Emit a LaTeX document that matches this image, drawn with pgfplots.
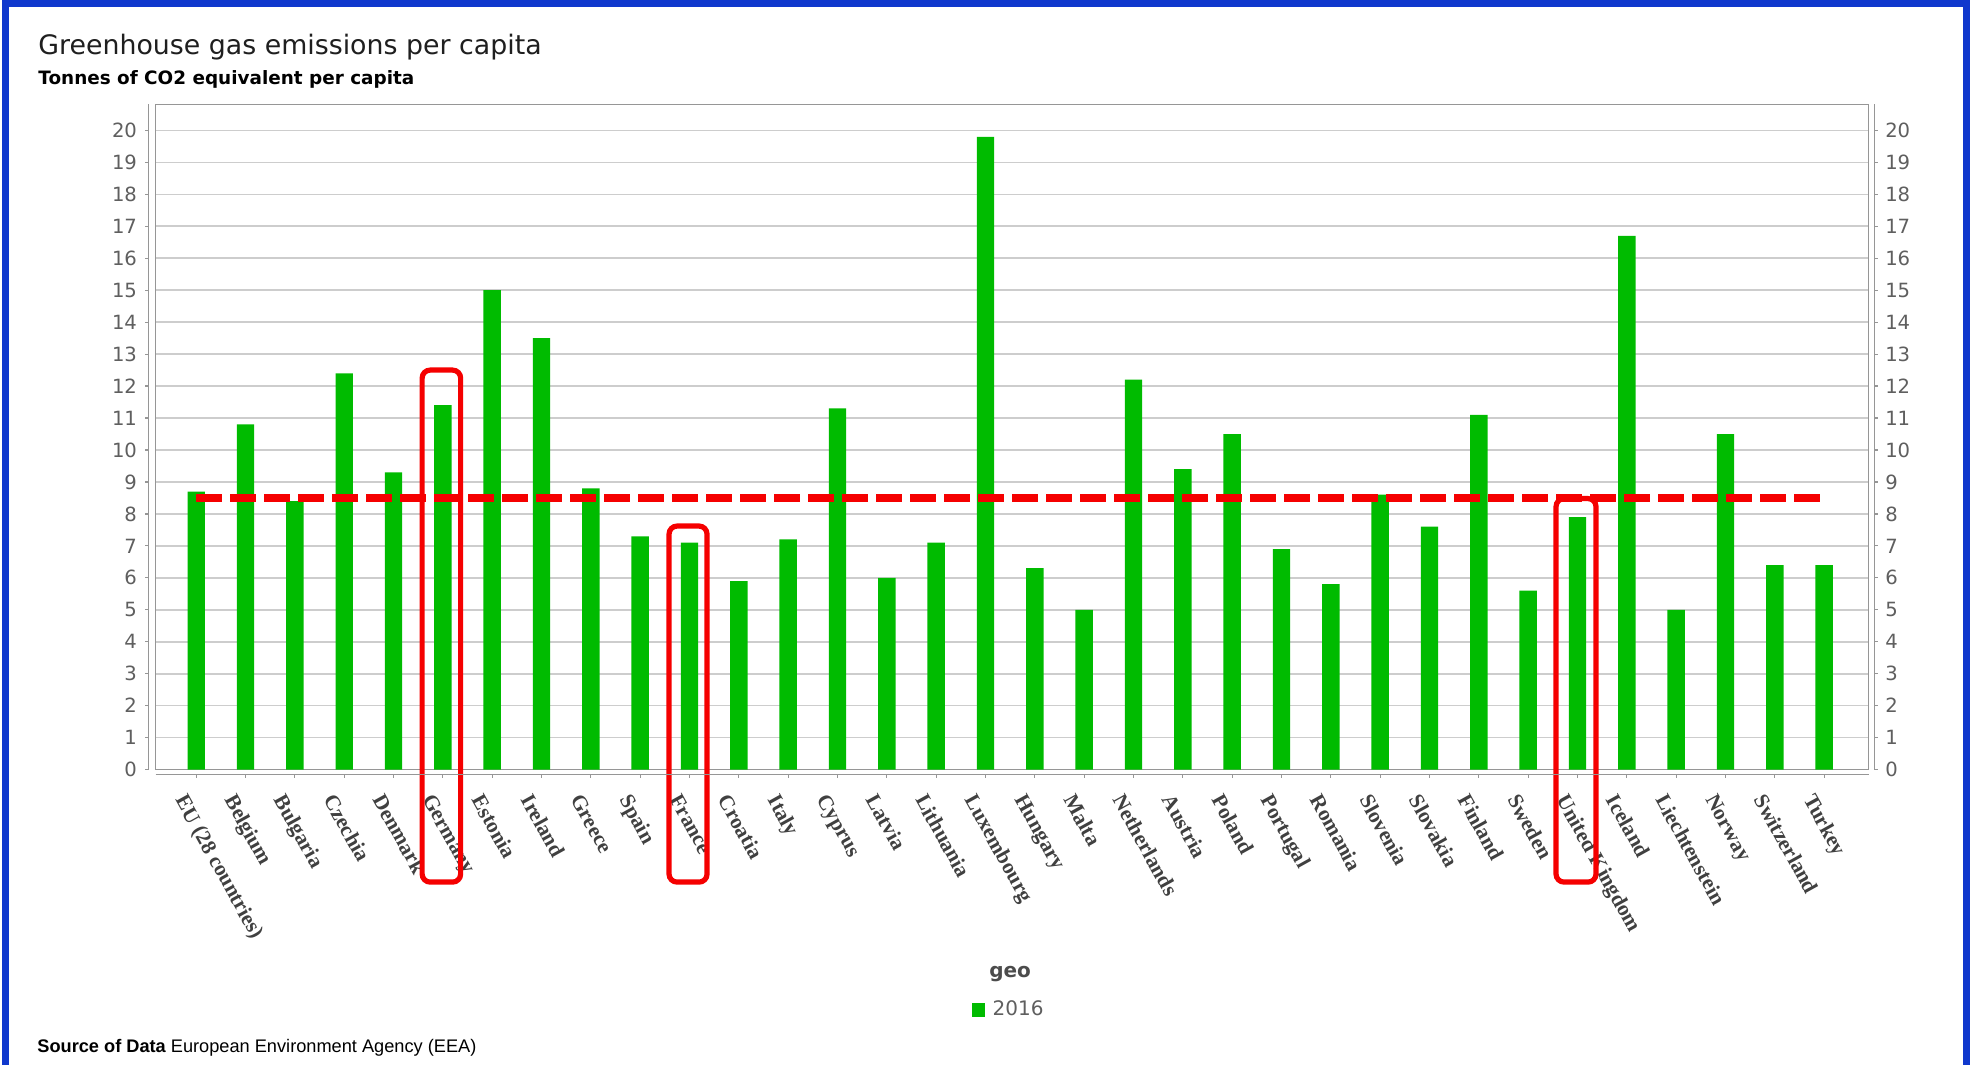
\documentclass[border=0pt]{standalone}
\usepackage{pgfplots}
\pgfplotsset{compat=1.18}
\usepackage{fontspec}
\setmainfont{DejaVu Sans}
\newfontfamily\lserif{Liberation Serif}
\newfontfamily\lsans{Liberation Sans}
\definecolor{barg}{RGB}{0,187,0}
\definecolor{myred}{RGB}{245,0,0}
\definecolor{gridc}{RGB}{205,205,205}
\definecolor{framec}{RGB}{150,150,150}
\definecolor{tickc}{RGB}{95,95,95}
\definecolor{bordc}{RGB}{16,56,205}
\pgfplotstableread{
x y
0 8.7
1 10.8
2 8.4
3 12.4
4 9.3
5 11.4
6 15.0
7 13.5
8 8.8
9 7.3
10 7.1
11 5.9
12 7.2
13 11.3
14 6.0
15 7.1
16 19.8
17 6.3
18 5.0
19 12.2
20 9.4
21 10.5
22 6.9
23 5.8
24 8.6
25 7.6
26 11.1
27 5.6
28 7.9
29 16.7
30 5.0
31 10.5
32 6.4
33 6.4
}\emissions
\begin{document}
\begin{tikzpicture}
\useasboundingbox (0pt,0pt) rectangle (985pt,532.5pt);
\fill[white] (0pt,0pt) rectangle (985pt,532.5pt);
\draw[bordc, line width=3.5pt] (2.75pt,-10pt) -- (2.75pt,530.7pt) -- (983.25pt,530.7pt) -- (983.25pt,-10pt);
\node[anchor=base west, inner sep=0pt, font=\fontsize{13.4pt}{16pt}\selectfont, text=black!88] at (19pt,505.3pt) {Greenhouse gas emissions per capita};
\node[anchor=base west, inner sep=0pt, font=\bfseries\fontsize{9.2pt}{11pt}\selectfont, text=black] at (19pt,490.2pt) {Tonnes of CO2 equivalent per capita};
\node[anchor=base west, inner sep=0pt, font=\lsans\fontsize{9.1pt}{11pt}\selectfont, text=black] at (18.5pt,6.3pt) {{\bfseries Source of Data} European Environment Agency (EEA)};

\begin{axis}[
  at={(77.875pt,147.7pt)}, anchor=south west, scale only axis,
  width=856.4pt, height=332.55pt,
  xmin=-0.82, xmax=33.9, ymin=0, ymax=20.81,
  clip=false,
  axis line style={framec, line width=0.6pt},
  ymajorgrids, grid style={gridc, line width=0.8pt},
  major tick length=0pt,
  ytick={0,...,20},
  xtick={0,...,33},
  xticklabels={EU (28 countries),Belgium,Bulgaria,Czechia,Denmark,Germany,Estonia,Ireland,Greece,Spain,France,Croatia,Italy,Cyprus,Latvia,Lithuania,Luxembourg,Hungary,Malta,Netherlands,Austria,Poland,Portugal,Romania,Slovenia,Slovakia,Finland,Sweden,United Kingdom,Iceland,Liechtenstein,Norway,Switzerland,Turkey},
  /pgf/number format/assume math mode=true,
  yticklabel style={font=\fontsize{9.8pt}{11pt}\selectfont, text=tickc, inner sep=0pt, anchor=east, xshift=-9.2pt},
  xticklabel style={font=\lserif\bfseries\fontsize{10.7pt}{12pt}\selectfont, text=black!75, inner sep=0pt, xshift=-4pt, yshift=-11.2pt, rotate=-61, anchor=north west},
  xlabel={geo},
  xlabel style={at={(axis description cs:0.4988,-0.3073)}, anchor=center, font=\bfseries\fontsize{10pt}{12pt}\selectfont, text=black!70},
  legend style={at={(0.4982,-0.3614)}, anchor=center, draw=none, fill=none, inner sep=0pt, font=\fontsize{10pt}{12pt}\selectfont, text=tickc, nodes={inner sep=1.5pt}},
  legend image code/.code={\fill[barg] (0pt,-3.5pt) rectangle (6.5pt,3.5pt); \path (9pt,0pt);},
]
\addplot[ybar, bar width=8.7pt, fill=barg, draw=none] table[x=x,y=y] {\emissions};
\addlegendentry{2016}
\addplot[forget plot, sharp plot, myred, line width=4pt, dash pattern=on 13pt off 4pt] coordinates {(0,8.5) (33.04,8.5)};
% annotation boxes
\draw[myred, line width=2.6pt, rounded corners=4pt] (axis cs:4.58,-3.52) rectangle (axis cs:5.36,12.5);
\draw[myred, line width=2.6pt, rounded corners=4pt] (axis cs:9.585,-3.52) rectangle (axis cs:10.355,7.62);
\draw[myred, line width=2.6pt, rounded corners=4pt] (axis cs:27.565,-3.52) rectangle (axis cs:28.375,8.48);
% offset axis lines
\draw[framec, line width=0.6pt] ([xshift=-3.75pt]rel axis cs:0,0) -- ([xshift=-3.75pt]rel axis cs:0,1);
\draw[framec, line width=0.6pt] ([xshift=2.9pt]rel axis cs:1,0) -- ([xshift=2.9pt]rel axis cs:1,1);
\draw[framec, line width=0.6pt] ([yshift=-2.4pt]rel axis cs:0,0) -- ([yshift=-2.4pt]rel axis cs:1,0);
\pgfplotsinvokeforeach{0,...,20}{
  \draw[framec, line width=0.6pt] ([xshift=-3.75pt]axis cs:-0.82,#1) -- ++(-1.8pt,0pt);
  \draw[framec, line width=0.6pt] ([xshift=2.9pt]axis cs:33.9,#1) -- ++(1.8pt,0pt);
}
\pgfplotsinvokeforeach{0,...,33}{
  \draw[framec, line width=0.6pt] ([yshift=-2.4pt]axis cs:#1,0) -- ++(0pt,-1.8pt);
}
\end{axis}

\begin{axis}[
  at={(77.875pt,147.7pt)}, anchor=south west, scale only axis,
  width=856.4pt, height=332.55pt,
  xmin=-0.82, xmax=33.9, ymin=0, ymax=20.81,
  axis line style={draw=none},
  major tick length=0pt,
  xtick=\empty,
  ytick={0,...,20},
  yticklabel pos=right,
  /pgf/number format/assume math mode=true,
  yticklabel style={font=\fontsize{9.8pt}{11pt}\selectfont, text=tickc, inner sep=0pt, anchor=west, xshift=8.15pt},
]
\end{axis}
\end{tikzpicture}
\end{document}
